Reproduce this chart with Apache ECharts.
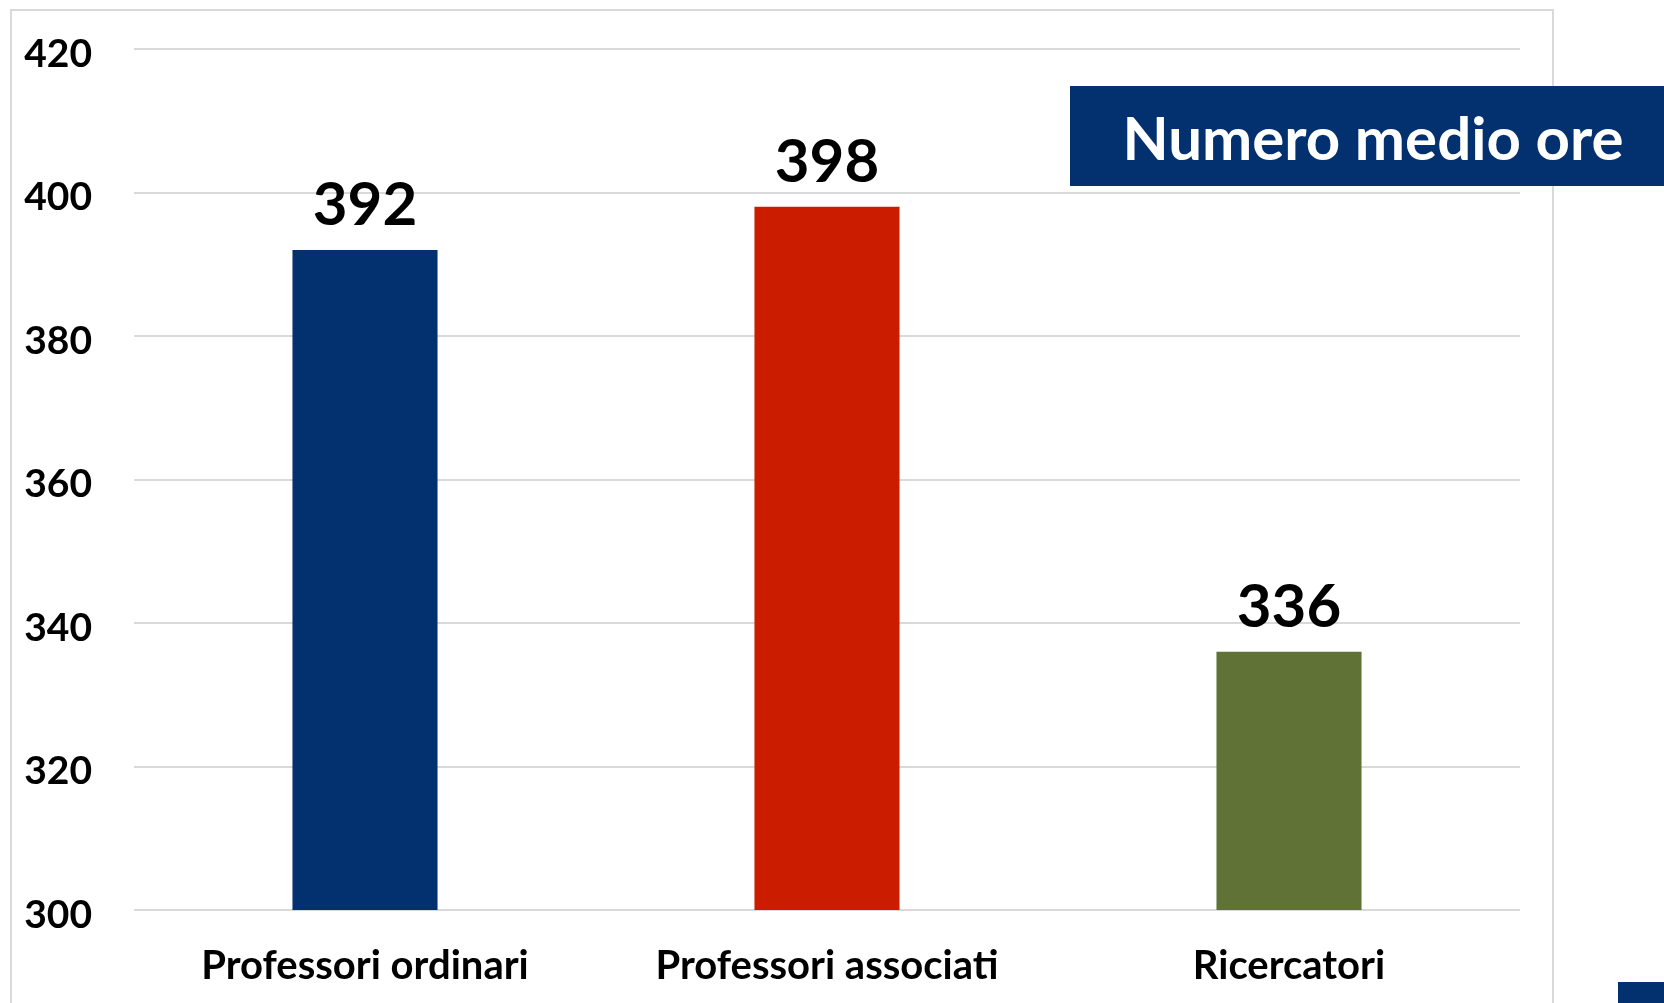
<!DOCTYPE html>
<html>
<head>
<meta charset="utf-8">
<script src="https://cdn.jsdelivr.net/npm/echarts@6/dist/echarts.min.js"></script>
<style>
  html, body { margin: 0; padding: 0; background: #fff; }
  #main { width: 1664px; height: 1003px; }
</style>
</head>
<body>
<div id="main"></div>
<script>
// data
var categories = ['Professori ordinari', 'Professori associati', 'Ricercatori'];
var values = [392, 398, 336];
var barColors = ['#03306F', '#CC1C00', '#617236'];
var yTicks = [300, 320, 340, 360, 380, 400, 420];
var titleText = 'Numero medio ore';

var myChart = echarts.init(document.getElementById('main'));

var font = 'Lato, "Open Sans", sans-serif';

var option = {
  animation: false,
  backgroundColor: '#ffffff',
  grid: {
    left: 134,
    right: 144,
    top: 49,
    bottom: 93
  },
  xAxis: {
    type: 'category',
    data: categories,
    axisLine: { show: false },
    axisTick: { show: false },
    axisLabel: {
      color: '#000',
      fontFamily: font,
      fontWeight: 'bold',
      fontSize: 40,
      margin: 36
    }
  },
  yAxis: {
    type: 'value',
    min: yTicks[0],
    max: yTicks[yTicks.length - 1],
    interval: 20,
    axisLine: { show: false },
    axisTick: { show: false },
    splitLine: { lineStyle: { color: '#D9D9D9', width: 2 } },
    axisLabel: {
      margin: 42,
      formatter: '{t|{value}}',
      rich: {
        t: {
          color: '#000',
          fontFamily: font,
          fontWeight: 'bold',
          fontSize: 39,
          padding: [10, 0, 0, 0]
        }
      }
    }
  },
  series: [{
    type: 'bar',
    barWidth: '31.4%',
    data: values.map(function (v, i) {
      return { value: v, itemStyle: { color: barColors[i] } };
    }),
    label: {
      show: true,
      position: 'top',
      distance: 14,
      color: '#000',
      fontFamily: font,
      fontWeight: 'bold',
      fontSize: 60
    }
  }],
  graphic: [
    {
      // outer frame
      type: 'rect',
      z: -1,
      shape: { x: 11, y: 10, width: 1542, height: 1100 },
      style: { fill: 'none', stroke: '#D9D9D9', lineWidth: 2 }
    },
    {
      type: 'rect',
      z: 10,
      shape: { x: 1070, y: 86, width: 600, height: 100 },
      style: { fill: '#03306F' }
    },
    {
      type: 'text',
      z: 11,
      x: 1373,
      y: 141,
      style: {
        text: titleText,
        fill: '#fff',
        font: 'bold 60px ' + font,
        align: 'center',
        verticalAlign: 'middle'
      }
    },
    {
      type: 'rect',
      z: 10,
      shape: { x: 1618, y: 982, width: 50, height: 30 },
      style: { fill: '#03306F' }
    }
  ]
};

myChart.setOption(option);
</script>
</body>
</html>
